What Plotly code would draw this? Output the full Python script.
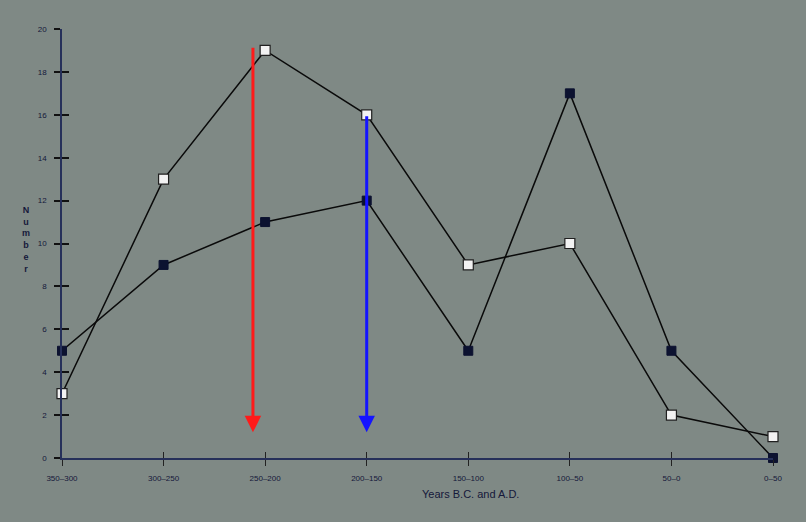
import plotly.graph_objects as go

periods = ["350\u2013300", "300\u2013250", "250\u2013200", "200\u2013150",
           "150\u2013100", "100\u201350", "50\u20130", "0\u201350"]
open_series = [3, 13, 19, 16, 9, 10, 2, 1]
filled_series = [5, 9, 11, 12, 5, 17, 5, 0]
y_ticks = [0, 2, 4, 6, 8, 10, 12, 14, 16, 18, 20]

arrow_x = [1.88, 3.0]
arrow_top = [19.2, 16.0]
arrow_tip = [1.2, 1.2]
arrow_colors = ["#ff1a1a", "#1414ff"]

idx = list(range(len(periods)))
bg = "#7f8985"
axis_col = "#26305a"
line_col = "#0a0a0a"

fig = go.Figure()
fig.add_trace(go.Scatter(
    x=idx, y=open_series, mode="lines+markers", cliponaxis=False,
    line=dict(color=line_col, width=1.5),
    marker=dict(symbol="square", size=10, color="#f2f2f2",
                line=dict(color="#202020", width=1.2)),
    showlegend=False))
fig.add_trace(go.Scatter(
    x=idx, y=filled_series, mode="lines+markers", cliponaxis=False,
    line=dict(color=line_col, width=1.5),
    marker=dict(symbol="square", size=9, color="#0c1230",
                line=dict(color="#0c1230", width=1)),
    showlegend=False))

for xa, yt, yb, c in zip(arrow_x, arrow_top, arrow_tip, arrow_colors):
    fig.add_annotation(x=xa, y=yb, ax=xa, ay=yt, xref="x", yref="y",
                       axref="x", ayref="y", text="", showarrow=True,
                       arrowhead=2, arrowsize=1.1, arrowwidth=3,
                       arrowcolor=c)

tickfont = dict(family="Liberation Sans, Arial, sans-serif", size=8, color="#15183a")

fig.update_layout(
    width=806, height=522,
    margin=dict(l=62, r=33, t=29, b=64),
    paper_bgcolor=bg, plot_bgcolor=bg,
    xaxis=dict(range=[0, 7], tickmode="array", tickvals=idx, ticktext=periods,
               showgrid=False, zeroline=False, showline=True,
               linecolor=axis_col, linewidth=1.5,
               ticks="outside", ticklen=6, tickcolor="#222",
               tickwidth=1.2, tickfont=tickfont, ticklabelstandoff=6),
    xaxis2=dict(range=[0, 7], overlaying="x", tickmode="array", tickvals=idx,
                showticklabels=False, showgrid=False, zeroline=False,
                ticks="inside", ticklen=6, tickcolor="#222", tickwidth=1.2),
    yaxis=dict(range=[0, 20], tickmode="array", tickvals=y_ticks,
               showgrid=False, zeroline=False, showline=True,
               linecolor=axis_col, linewidth=1.5,
               ticks="outside", ticklen=6, tickcolor="#111", tickwidth=1.5,
               tickfont=tickfont, ticklabelstandoff=6),
    yaxis2=dict(range=[0, 20], overlaying="y", tickmode="array",
                tickvals=y_ticks, showticklabels=False, showgrid=False,
                zeroline=False, ticks="inside", ticklen=7,
                tickcolor="#111", tickwidth=1.5),
)
# invisible trace to activate secondary axes (for crossing tick marks)
fig.add_trace(go.Scatter(x=[None], y=[None], xaxis="x2", yaxis="y2",
                         showlegend=False, hoverinfo="skip"))

fig.add_annotation(text="<b>N<br>u<br>m<br>b<br>e<br>r</b>", xref="paper", yref="paper",
                   x=-0.051, y=0.51, xanchor="center", yanchor="middle",
                   showarrow=False, align="center",
                   font=dict(family="Liberation Sans, Arial, sans-serif", size=9,
                             color="#15183a"))
fig.add_annotation(text="Years B.C. and A.D.", xref="paper", yref="paper",
                   x=0.575, y=-0.085, xanchor="center", yanchor="middle",
                   showarrow=False,
                   font=dict(family="Liberation Sans, Arial, sans-serif", size=11,
                             color="#15183a"))

fig.write_html("out.html", config={"displayModeBar": False},
               post_script="document.body.style.margin='0';document.body.style.overflow='hidden';")
